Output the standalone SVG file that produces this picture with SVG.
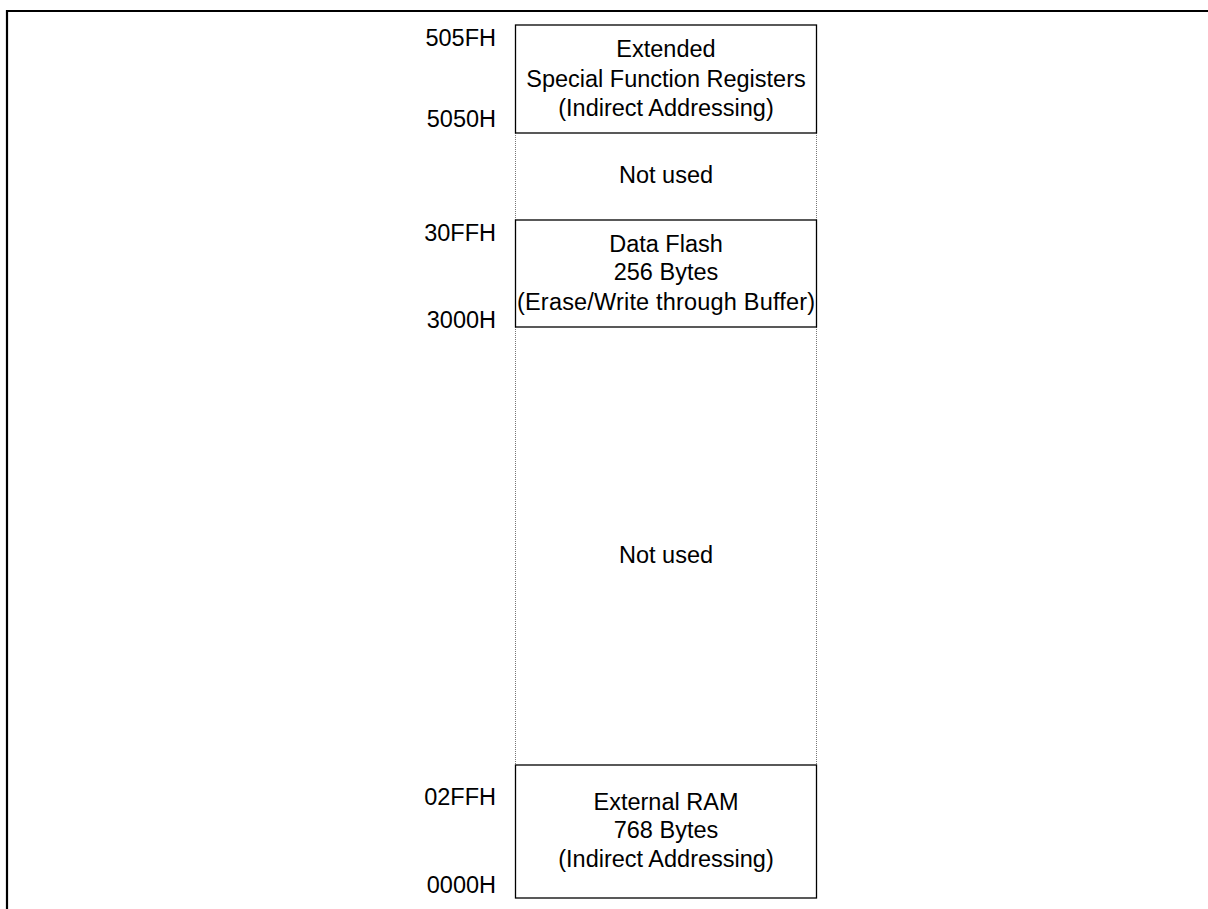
<svg xmlns="http://www.w3.org/2000/svg" width="1208" height="909" viewBox="0 0 1208 909">
  <style>
    .frame { fill: none; stroke: #000; stroke-width: 2.2; }
    .block { fill: #fff; stroke: #000; stroke-width: 1.3; }
    .gap { stroke: #777; stroke-width: 1; stroke-dasharray: 1 1; }
    .t { font-family: "Liberation Sans", Arial, sans-serif; font-size: 23.5px; fill: #000; }
    .c { text-anchor: middle; }
    .r { text-anchor: end; }
  </style>
  <rect width="1208" height="909" fill="#fff"/>
  <!-- page frame: top and left rules -->
  <path class="frame" d="M7 909 V11 H1208"/>

  <!-- unused address ranges: dotted side walls -->
  <g id="connectors">
    <line class="gap" x1="515.5" y1="133" x2="515.5" y2="220"/>
    <line class="gap" x1="816.5" y1="133" x2="816.5" y2="220"/>
    <line class="gap" x1="515.5" y1="327" x2="515.5" y2="765"/>
    <line class="gap" x1="816.5" y1="327" x2="816.5" y2="765"/>
  </g>

  <g id="esfr">
    <rect class="block" x="515.5" y="25" width="301" height="108"/>
    <text class="t c" x="666" y="57">Extended</text>
    <text class="t c" x="666" y="87">Special Function Registers</text>
    <text class="t c" x="666" y="116">(Indirect Addressing)</text>
    <text class="t r" x="496" y="46">505FH</text>
    <text class="t r" x="496" y="127">5050H</text>
  </g>

  <g id="unused-high">
    <text class="t c" x="666" y="183">Not used</text>
  </g>

  <g id="data-flash">
    <rect class="block" x="515.5" y="220" width="301" height="107"/>
    <text class="t c" x="666" y="252">Data Flash</text>
    <text class="t c" x="666" y="280">256 Bytes</text>
    <text class="t c" x="666" y="310" textLength="298" lengthAdjust="spacing">(Erase/Write through Buffer)</text>
    <text class="t r" x="496" y="241">30FFH</text>
    <text class="t r" x="496" y="328">3000H</text>
  </g>

  <g id="unused-low">
    <text class="t c" x="666" y="563">Not used</text>
  </g>

  <g id="external-ram">
    <rect class="block" x="515.5" y="765" width="301" height="133"/>
    <text class="t c" x="666" y="810">External RAM</text>
    <text class="t c" x="666" y="838">768 Bytes</text>
    <text class="t c" x="666" y="867">(Indirect Addressing)</text>
    <text class="t r" x="496" y="805">02FFH</text>
    <text class="t r" x="496" y="893">0000H</text>
  </g>
</svg>
